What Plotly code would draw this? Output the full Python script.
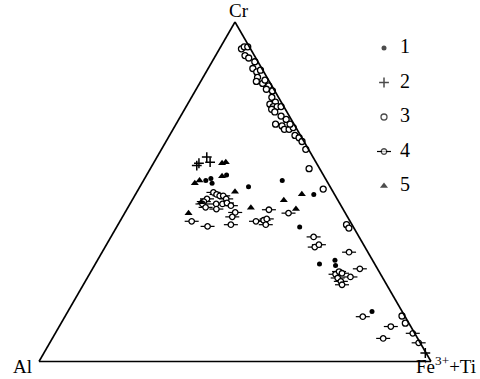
import plotly.graph_objects as go

# Ternary data: fractions of Cr (top), Al (bottom-left), Fe3++Ti (bottom-right)
s1_cr = [0.533, 0.539, 0.525, 0.549, 0.515, 0.533, 0.492, 0.396, 0.287, 0.298, 0.283, 0.147]
s1_al = [0.308, 0.292, 0.296, 0.247, 0.208, 0.113, 0.053, 0.137, 0.141, 0.096, 0.102, 0.077]
s1_fe = [0.159, 0.169, 0.179, 0.204, 0.277, 0.354, 0.455, 0.467, 0.572, 0.606, 0.615, 0.776]

s2_cr = [0.577, 0.584, 0.602, 0.587, 0.025]
s2_al = [0.309, 0.300, 0.271, 0.270, 0.002]
s2_fe = [0.114, 0.116, 0.127, 0.143, 0.973]

s3_cr = [0.921, 0.927, 0.927, 0.901, 0.894, 0.883, 0.863, 0.853, 0.858, 0.837,
         0.825, 0.819, 0.829, 0.812, 0.802, 0.797, 0.778, 0.764, 0.758, 0.751,
         0.751, 0.743, 0.735, 0.751, 0.723, 0.713, 0.699, 0.694, 0.684, 0.684,
         0.689, 0.699, 0.666, 0.659, 0.648, 0.625, 0.568, 0.508, 0.403, 0.393,
         0.134, 0.113]
s3_al = [0.023, 0.013, 0.004, 0.024, 0.018, 0.008, 0.023, 0.018, 0.006, 0.024,
         0.033, 0.020, 0.009, 0.008, 0.019, 0.006, 0.017, 0.015, 0.032, 0.027,
         0.017, 0.035, 0.031, 0.007, 0.021, 0.013, 0.047, 0.033, 0.032, 0.020,
         0.007, 0.010, 0.014, 0.007, 0.005, 0.007, 0.027, 0.021, 0.014, 0.013,
         0.007, 0.009]
s3_fe = [0.056, 0.060, 0.069, 0.075, 0.088, 0.109, 0.114, 0.129, 0.136, 0.139,
         0.142, 0.161, 0.162, 0.180, 0.179, 0.197, 0.205, 0.221, 0.210, 0.222,
         0.232, 0.222, 0.234, 0.242, 0.256, 0.274, 0.254, 0.273, 0.284, 0.296,
         0.304, 0.291, 0.320, 0.334, 0.347, 0.368, 0.405, 0.471, 0.583, 0.594,
         0.859, 0.878]

s4_cr = [0.498, 0.492, 0.488, 0.488, 0.479, 0.479, 0.471, 0.464, 0.454, 0.464,
         0.464, 0.467, 0.459, 0.449, 0.439, 0.426, 0.403, 0.413, 0.398, 0.413,
         0.416, 0.420, 0.447, 0.403, 0.437, 0.367, 0.337, 0.344, 0.322, 0.273,
         0.249, 0.257, 0.265, 0.260, 0.246, 0.236, 0.226, 0.132, 0.103, 0.068,
         0.083, 0.055]
s4_al = [0.306, 0.301, 0.295, 0.286, 0.283, 0.332, 0.344, 0.351, 0.348, 0.316,
         0.300, 0.287, 0.281, 0.323, 0.280, 0.294, 0.309, 0.404, 0.371, 0.240,
         0.219, 0.209, 0.190, 0.220, 0.145, 0.116, 0.128, 0.114, 0.048, 0.045,
         0.081, 0.115, 0.102, 0.097, 0.115, 0.112, 0.114, 0.108, 0.051, 0.088,
         0.005, 0.004]
s4_fe = [0.196, 0.207, 0.217, 0.226, 0.238, 0.189, 0.185, 0.185, 0.198, 0.220,
         0.236, 0.246, 0.260, 0.228, 0.281, 0.280, 0.288, 0.183, 0.231, 0.347,
         0.365, 0.371, 0.363, 0.377, 0.418, 0.517, 0.535, 0.542, 0.630, 0.682,
         0.670, 0.628, 0.633, 0.643, 0.639, 0.652, 0.660, 0.760, 0.846, 0.844,
         0.912, 0.941]

s5_cr = [0.584, 0.587, 0.525, 0.533, 0.546, 0.500, 0.469, 0.437, 0.453, 0.475, 0.493, 0.449]
s5_al = [0.241, 0.230, 0.340, 0.324, 0.260, 0.250, 0.352, 0.400, 0.233, 0.138, 0.083, 0.120]
s5_fe = [0.175, 0.183, 0.135, 0.143, 0.194, 0.250, 0.179, 0.163, 0.314, 0.387, 0.424, 0.431]

legend_labels = ["1", "2", "3", "4", "5"]
vertex_labels = ["Cr", "Al", "Fe<sup>3+</sup>+Ti"]

SERIF = "Liberation Serif, Times New Roman, serif"
BLACK = "black"

fig = go.Figure()

def tern(a, b, c, **kw):
    fig.add_trace(go.Scatterternary(a=a, b=b, c=c, mode="markers", cliponaxis=False,
                                    showlegend=False, hoverinfo="skip", **kw))

tern(s1_cr, s1_al, s1_fe, marker=dict(symbol="circle", size=5, color=BLACK))
tern(s2_cr, s2_al, s2_fe, marker=dict(symbol="cross-thin", size=7,
                                      line=dict(color=BLACK, width=1.5)))
tern(s3_cr, s3_al, s3_fe, marker=dict(symbol="circle", size=6, color="white",
                                      line=dict(color=BLACK, width=1.3)))
tern(s4_cr, s4_al, s4_fe, marker=dict(symbol="line-ew", size=10,
                                      line=dict(color=BLACK, width=1.2)))
tern(s4_cr, s4_al, s4_fe, marker=dict(symbol="circle", size=5.5, color="white",
                                      line=dict(color=BLACK, width=1.3)))
tern(s5_cr, s5_al, s5_fe, marker=dict(symbol="triangle-up", size=7, color=BLACK))

# Legend drawn on a small hidden axis
sym = ["circle", "cross-thin", "circle", "circle", "triangle-up"]
sizes = [5, 7, 6, 5.5, 7]
fills = [BLACK, BLACK, "white", "white", BLACK]
fig.add_trace(go.Scatter(x=[0], y=[legend_labels[3]], mode="markers", cliponaxis=False,
                         marker=dict(symbol="line-ew", size=10,
                                     line=dict(color=BLACK, width=1.2)),
                         showlegend=False, hoverinfo="skip", xaxis="x", yaxis="y"))
fig.add_trace(go.Scatter(x=[0] * 5, y=legend_labels, mode="markers", cliponaxis=False,
                         marker=dict(symbol=sym, size=sizes, color=fills,
                                     line=dict(color=BLACK, width=[0, 1.5, 1.3, 1.3, 0])),
                         showlegend=False, hoverinfo="skip", xaxis="x", yaxis="y"))
fig.add_trace(go.Scatter(x=[0.2] * 5, y=legend_labels, mode="text", cliponaxis=False,
                         text=legend_labels, textposition="middle right",
                         textfont=dict(family=SERIF, size=20, color=BLACK),
                         showlegend=False, hoverinfo="skip", xaxis="x", yaxis="y"))

axis_common = dict(showgrid=False, showticklabels=False, ticks="", title=dict(text=""),
                   showline=True, linecolor=BLACK, linewidth=1.6)

W, H = 480, 379
label_pos = [(239, 11), (22, 366), (446, 365)]
annotations = [
    dict(text=t, x=px / W, y=1 - py / H, xref="paper", yref="paper",
         xanchor="center", yanchor="middle", showarrow=False,
         font=dict(family=SERIF, size=19, color=BLACK))
    for t, (px, py) in zip(vertex_labels, label_pos)
]

fig.update_layout(
    width=W, height=H,
    margin=dict(l=0, r=0, t=0, b=0),
    paper_bgcolor="white", plot_bgcolor="white",
    ternary=dict(
        sum=1,
        bgcolor="white",
        domain=dict(x=[39 / W, 431 / W], y=[1 - 361.5 / H, 1 - 22 / H]),
        aaxis=axis_common, baxis=axis_common, caxis=axis_common,
    ),
    xaxis=dict(domain=[376 / W, 456 / W], range=[-0.1, 0.9], visible=False, fixedrange=True),
    yaxis=dict(domain=[1 - 186 / H, 1 - 48 / H], type="category",
               categoryorder="array", categoryarray=legend_labels,
               range=[4, 0], visible=False, fixedrange=True),
    annotations=annotations,
    showlegend=False,
)

fig.write_html("out.html", config={"displayModeBar": False},
               post_script="document.body.style.margin='0';")
